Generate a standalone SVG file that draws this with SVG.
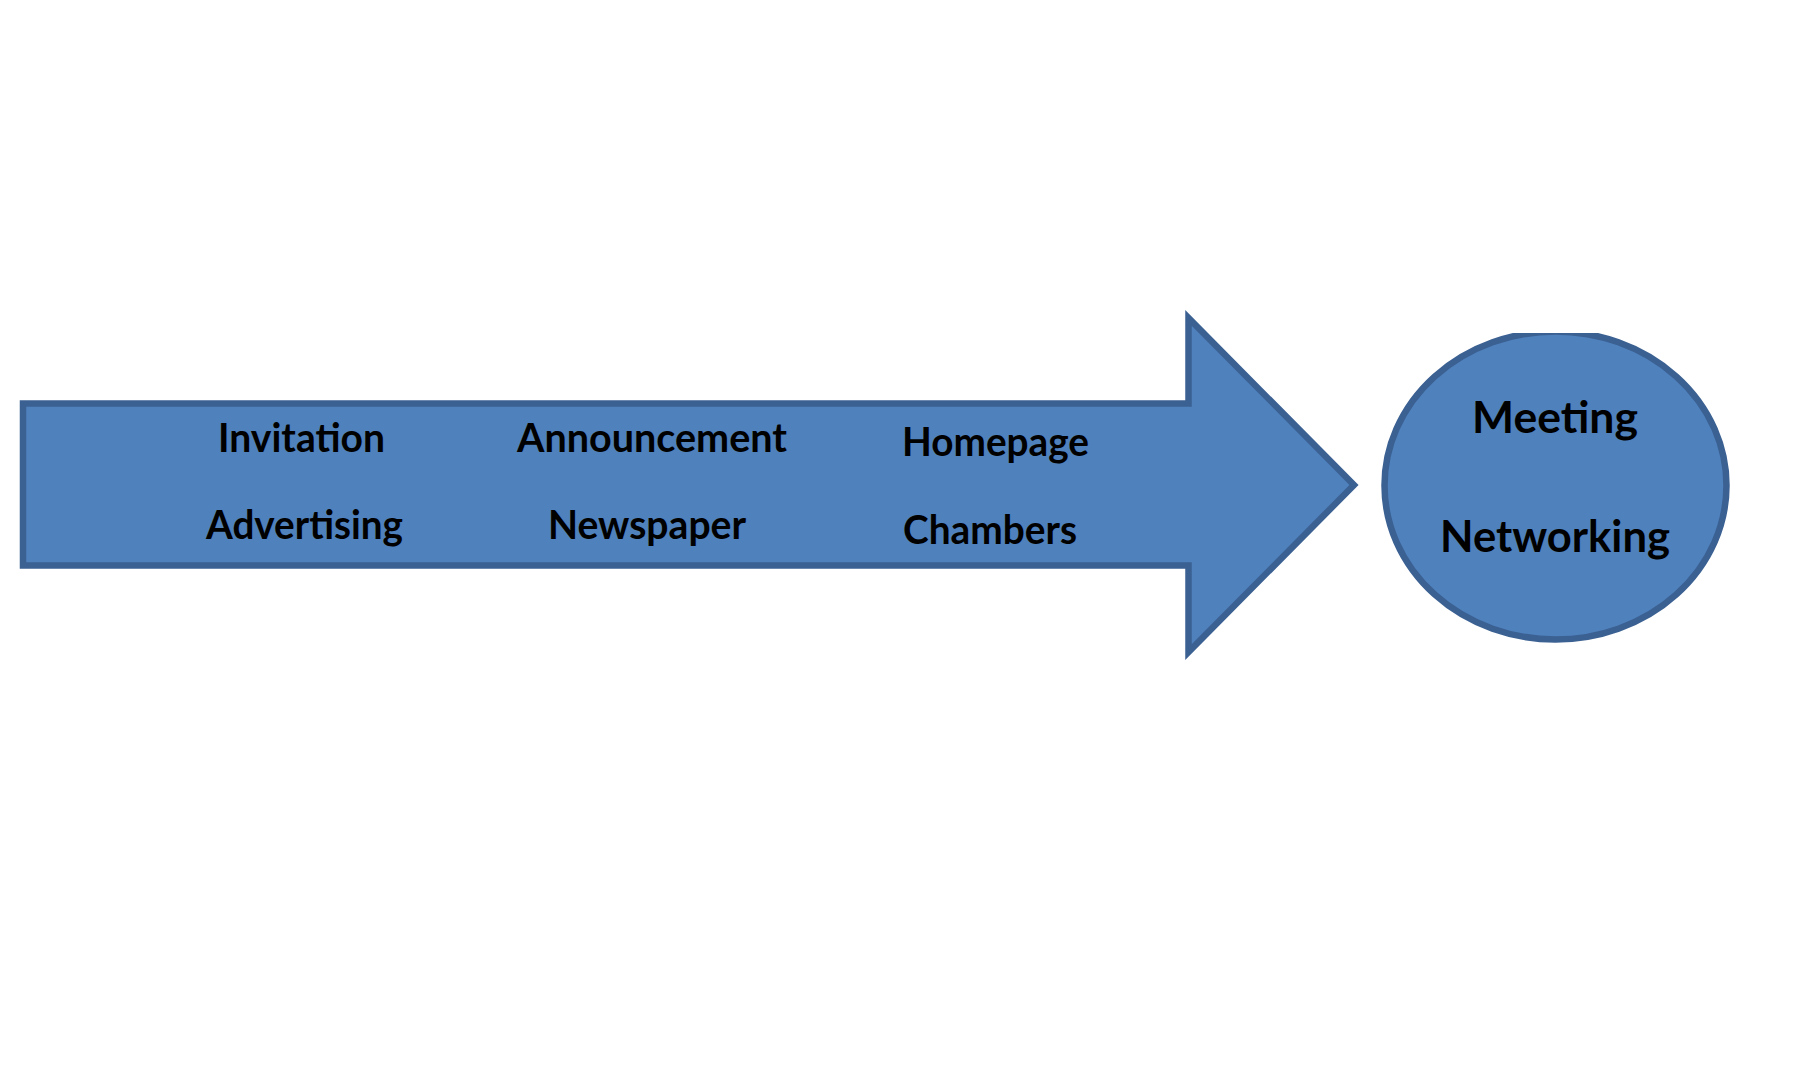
<svg xmlns="http://www.w3.org/2000/svg" width="1800" height="1080" viewBox="0 0 1800 1080">
  <style>
    .shape { fill: #4f81bd; stroke: #3b6092; stroke-width: 6.5; stroke-linejoin: miter; }
    .lbl { font-family: Lato, "Open Sans", "Liberation Sans", sans-serif; font-weight: bold; font-size: 41px; fill: #000000; }
    .big { font-size: 44px; }
  </style>
  <defs>
    <clipPath id="clipTop">
      <rect x="1300" y="333" width="500" height="400"/>
    </clipPath>
  </defs>
  <rect x="0" y="0" width="1800" height="1080" fill="#ffffff"/>
  <g id="connectors">
    <g id="arrow">
      <polygon class="shape" points="23,403.5 1188.5,403.5 1188.5,318 1354,485 1188.5,652 1188.5,565.5 23,565.5"/>
      <text class="lbl" x="218" y="452" textLength="167" lengthAdjust="spacingAndGlyphs">Invitation</text>
      <text class="lbl" x="206" y="539" textLength="197" lengthAdjust="spacingAndGlyphs">Advertising</text>
      <text class="lbl" x="517" y="452" textLength="270" lengthAdjust="spacingAndGlyphs">Announcement</text>
      <text class="lbl" x="548" y="539" textLength="198" lengthAdjust="spacingAndGlyphs">Newspaper</text>
      <text class="lbl" x="902" y="456" textLength="187" lengthAdjust="spacingAndGlyphs">Homepage</text>
      <text class="lbl" x="903" y="544" textLength="174" lengthAdjust="spacingAndGlyphs">Chambers</text>
    </g>
  </g>
  <g id="node-goal">
    <ellipse class="shape" cx="1555.5" cy="485.5" rx="171" ry="154" clip-path="url(#clipTop)"/>
    <text class="lbl big" x="1472" y="433" textLength="166" lengthAdjust="spacingAndGlyphs">Meeting</text>
    <text class="lbl big" x="1440" y="552" textLength="230" lengthAdjust="spacingAndGlyphs">Networking</text>
  </g>
</svg>
